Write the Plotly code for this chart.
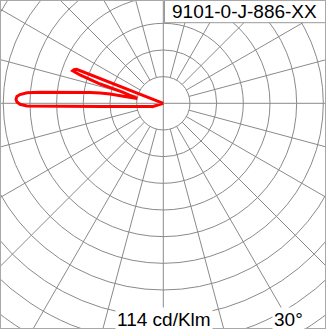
import numpy as np
import plotly.graph_objects as go

# Luminous intensity curve (angle from nadir in degrees, clockwise; intensity in cd/klm)
gamma_deg = [70.0, 71.0, 72.5, 75.0, 77.5, 80.0, 82.5, 85.0, 86.0, 87.0, 87.5, 88.0, 88.5,
             88.9, 89.6, 90.5, 91.5, 92.7, 93.5, 94.4, 95.1, 95.6, 96.7, 98.4, 99.2, 99.9,
             100.1, 100.5, 103.0, 105.4, 107.0, 108.0, 108.8, 109.8, 110.6, 111.4, 112.0]
intensity = [0.0, 7.9, 8.6, 9.4, 11.1, 13.8, 18.4, 27.5, 34.5, 45.8, 54.8, 69.0, 91.5,
             102.2, 107.5, 109.7, 110.5, 109.9, 107.7, 102.5, 92.9, 85.4, 70.5, 55.5, 48.0, 40.5,
             29.3, 19.9, 25.4, 31.1, 49.5, 57.8, 66.0, 72.2, 71.6, 69.8, 0.0]

ring_values = [20, 40, 60, 80, 100, 120, 140, 160, 180, 200, 220]
spoke_angles = list(range(0, 360, 15))

title_text = "9101-0-J-886-XX"
unit_text = "114 cd/Klm"
plane_text = "30°"

W, H = 326, 329
CX, CY = 163.3, 103.3       # centre in pixels
PX_PER_UNIT = 26.67 / 20.0

x_range = [-CX / PX_PER_UNIT, (W - CX) / PX_PER_UNIT]
y_range = [-(H - CY) / PX_PER_UNIT, CY / PX_PER_UNIT]

fig = go.Figure()

grid_color = "#8a8a8a"
shapes = []
for r in ring_values:
    shapes.append(dict(type="circle", xref="x", yref="y", x0=-r, x1=r, y0=-r, y1=r,
                       line=dict(color=grid_color, width=1), layer="below"))

# spokes
sx, sy = [], []
r_in = ring_values[0]
r_out = 260
for a in spoke_angles:
    t = np.deg2rad(a)
    start = 0 if a % 90 == 0 else r_in
    sx += [start * np.cos(t), r_out * np.cos(t), None]
    sy += [start * np.sin(t), r_out * np.sin(t), None]
fig.add_trace(go.Scatter(x=sx, y=sy, mode="lines", line=dict(color=grid_color, width=1),
                         hoverinfo="skip", showlegend=False))

g = np.deg2rad(np.array(gamma_deg))
rr = np.array(intensity)
fig.add_trace(go.Scatter(x=-rr * np.sin(g), y=-rr * np.cos(g), mode="lines",
                         line=dict(color="#ff0000", width=3), showlegend=False,
                         hoverinfo="skip"))

# title box
shapes.append(dict(type="rect", xref="paper", yref="paper", x0=164.5 / W, x1=1.01,
                   y0=1 - 22.7 / H, y1=1.01, line=dict(color="#999999", width=1),
                   fillcolor="white", layer="above"))
# frame
shapes.append(dict(type="rect", xref="paper", yref="paper", x0=0, x1=1, y0=0, y1=1,
                   line=dict(color="#a8a8a8", width=2), layer="above"))

font = dict(family="Liberation Sans, Arial, sans-serif", size=19, color="black")
annotations = [
    dict(text=title_text, x=244.5 / W, y=1 - 11.7 / H, xref="paper", yref="paper",
         xanchor="center", yanchor="middle", showarrow=False, font=font),
    dict(text=unit_text, x=164 / W, y=1 - 319.4 / H, xref="paper", yref="paper",
         xanchor="center", yanchor="middle", showarrow=False, font=font,
         bgcolor="white", borderpad=1),
    dict(text=plane_text, x=288 / W, y=1 - 319.4 / H, xref="paper", yref="paper",
         xanchor="center", yanchor="middle", showarrow=False, font=font,
         bgcolor="white", borderpad=1),
]

fig.update_layout(
    width=W, height=H, margin=dict(l=0, r=0, t=0, b=0, pad=0),
    paper_bgcolor="white", plot_bgcolor="white",
    xaxis=dict(range=x_range, visible=False, fixedrange=True),
    yaxis=dict(range=y_range, visible=False, fixedrange=True),
    shapes=shapes, annotations=annotations, showlegend=False,
)

fig.write_html("out.html")
